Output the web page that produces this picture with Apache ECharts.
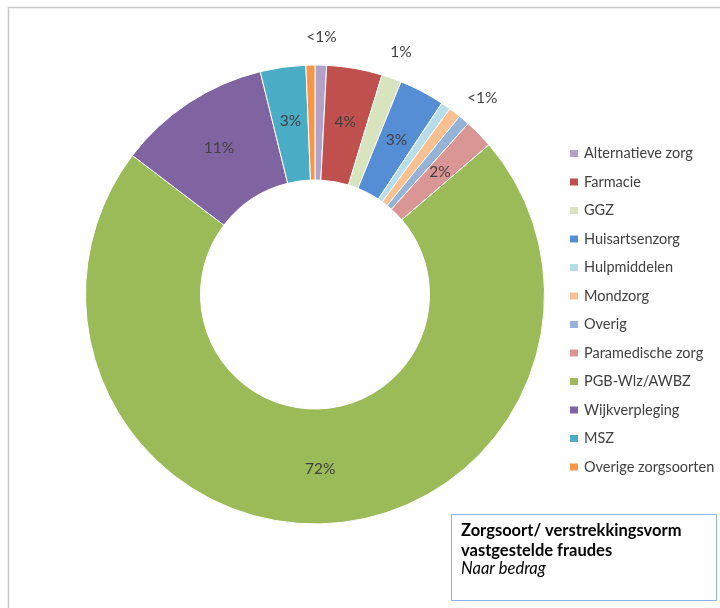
<!DOCTYPE html>
<html>
<head>
<meta charset="utf-8">
<script src="https://cdn.jsdelivr.net/npm/echarts@6/dist/echarts.min.js"></script>
<style>
html,body{margin:0;padding:0;background:#fff;}
#chart{width:720px;height:608px;}
</style>
</head>
<body>
<div id="chart"></div>
<script>
var categories = ['Alternatieve zorg','Farmacie','GGZ','Huisartsenzorg','Hulpmiddelen','Mondzorg','Overig','Paramedische zorg','PGB-Wlz/AWBZ','Wijkverpleging','MSZ','Overige zorgsoorten'];
var values = [0.81, 3.9, 1.4, 3.2, 0.68, 0.85, 0.78, 2.06, 71.6, 10.8, 3.2, 0.63];
var colors = ['#b3a2c7','#c0504d','#d7e4bd','#558ed5','#b7dee8','#fac090','#95b3d7','#d99694','#9bbb59','#8064a2','#4bacc6','#f79646'];
var labelInside = [false,true,false,true,false,false,false,true,true,true,true,false];
var labelOutside = [true,false,true,false,false,false,true,false,false,false,false,false];

function fmt(p){ return p.percent < 1 ? '<1%' : Math.round(p.percent) + '%'; }

var mainData = categories.map(function(c,i){
  return {name:c, value:values[i], itemStyle:{color:colors[i]}, label:{show:labelInside[i]}};
});
var outerData = categories.map(function(c,i){
  return {name:c, value:values[i], label:{show:labelOutside[i]}};
});

var chart = echarts.init(document.getElementById('chart'));
chart.setOption({
  animation:false,
  backgroundColor:'#fff',
  legend:{
    orient:'vertical', left:563, top:141, padding:5,
    icon:'rect', itemWidth:10, itemHeight:9, itemGap:13.5,
    textStyle:{fontFamily:'Lato', fontSize:14.5, color:'#404040', lineHeight:15},
    data:categories
  },
  series:[
    {
      type:'pie', center:[315,294.5], radius:[114.5,229.5], startAngle:90, clockwise:true,
      avoidLabelOverlap:false,
      itemStyle:{borderColor:'#fff', borderWidth:1},
      label:{position:'inside', formatter:fmt, fontFamily:'Lato', fontSize:15.5, color:'#404040'},
      labelLine:{show:false},
      data:mainData
    },
    {
      type:'pie', center:[315,294.5], radius:[229.5,280], startAngle:90, clockwise:true,
      silent:true, avoidLabelOverlap:false,
      itemStyle:{color:'rgba(0,0,0,0)', borderWidth:0},
      label:{position:'inside', formatter:fmt, fontFamily:'Lato', fontSize:15.5, color:'#404040'},
      labelLine:{show:false},
      emphasis:{disabled:true},
      data:outerData
    }
  ],
  graphic:[
    {type:'polyline', shape:{points:[[8.5,608],[8.5,7.5],[720,7.5]]}, style:{stroke:'#c8c8c8', lineWidth:1.5, fill:null}},
    {type:'rect', shape:{x:451.5,y:514.5,width:265,height:86}, style:{stroke:'#8eb4e3', lineWidth:1, fill:'#fff'}},
    {type:'text', left:461, top:522, style:{text:'Zorgsoort/ verstrekkingsvorm', font:'bold 16.5px Lato', fill:'#000'}},
    {type:'text', left:461, top:542, style:{text:'vastgestelde fraudes', font:'bold 16.5px Lato', fill:'#000'}},
    {type:'text', left:461, top:560, style:{text:'Naar bedrag', font:'italic 16.5px Lato', fill:'#000'}}
  ]
});
</script>
</body>
</html>
